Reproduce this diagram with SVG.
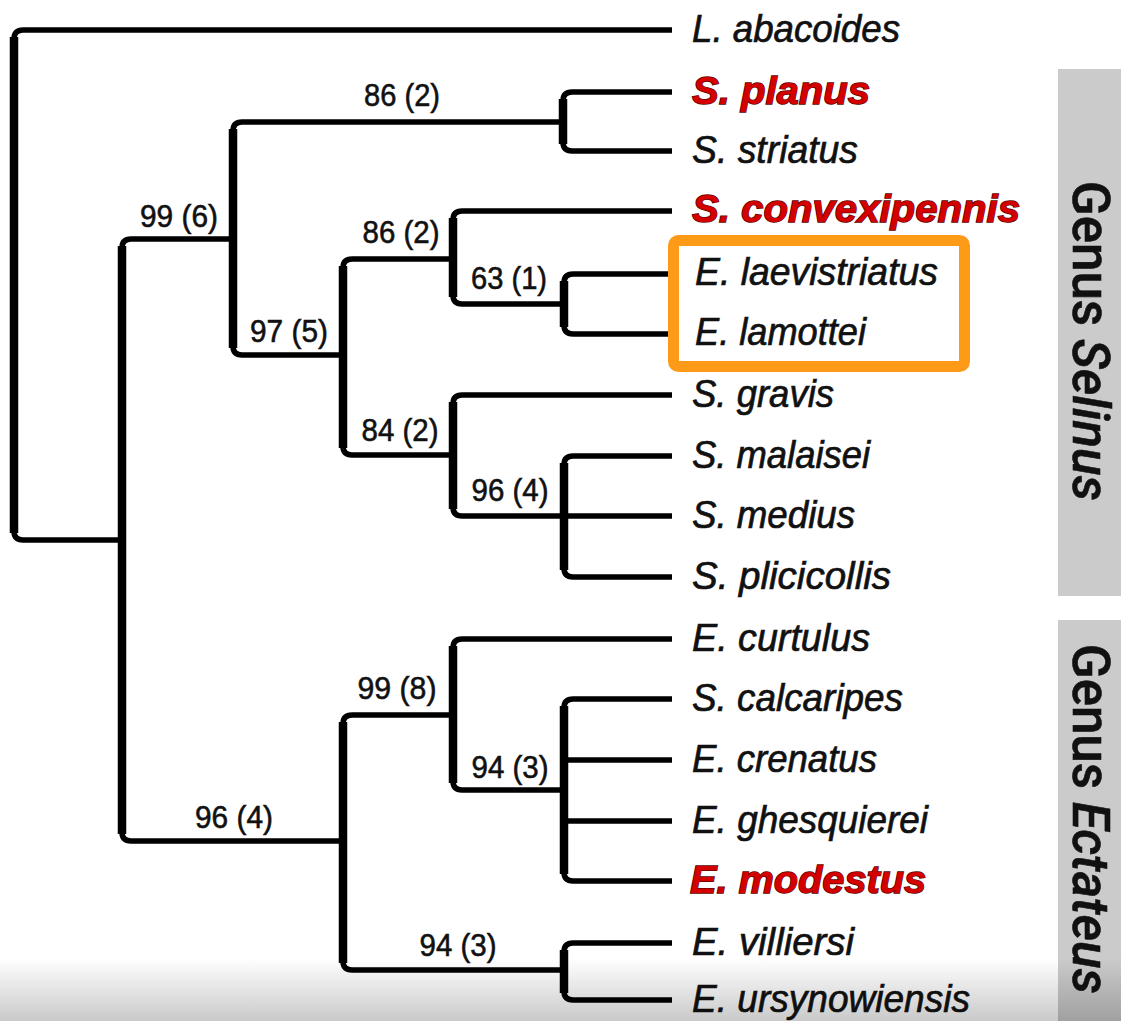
<svg xmlns="http://www.w3.org/2000/svg" width="1121" height="1021" viewBox="0 0 1121 1021">
  <defs>
    <linearGradient id="fade" x1="0" y1="0" x2="0" y2="1">
      <stop offset="0" stop-color="#000" stop-opacity="0"/>
      <stop offset="1" stop-color="#000" stop-opacity="0.21"/>
    </linearGradient>
    <style>
      .h { stroke:#000; stroke-width:5.5; fill:none; stroke-linejoin:round; }
      .v { stroke:#000; stroke-width:8.5; fill:none; }
      .leaf { font-family:"Liberation Sans", Arial, sans-serif; font-style:italic; font-size:39px; fill:#111; stroke:#111; stroke-width:0.7; }
      .red { font-weight:bold; fill:#d40000; stroke:#5a0000; stroke-width:1.4; paint-order:stroke; }
      .bs { font-family:"Liberation Sans", Arial, sans-serif; font-size:32px; fill:#111; stroke:#111; stroke-width:0.6; text-anchor:middle; }
      .genus { font-family:Roboto, "Liberation Sans", sans-serif; font-size:51px; font-weight:500; fill:#111; stroke:#111; stroke-width:0.6; text-anchor:middle; }
      .bar { fill:#cbcbcb; }
    </style>
  </defs>
  <rect width="1121" height="1021" fill="#fff"/>

  <g id="genus-selinus">
    <rect class="bar" x="1058" y="69" width="63" height="527"/>
    <text class="genus" transform="translate(1073,341) rotate(90)">Genus <tspan font-style="italic">Selinus</tspan></text>
  </g>
  <g id="genus-ectateus">
    <rect class="bar" x="1058" y="620" width="63" height="401"/>
    <text class="genus" transform="translate(1073,819) rotate(90)">Genus <tspan font-style="italic">Ectateus</tspan></text>
  </g>

  <g id="connectors">
    <path class="h" d="M672,30 H23 Q14,30 14,39 V531 Q14,540 23,540 H122"/>
    <path class="v" d="M14,37 V533"/>
    <path class="h" d="M233,239 H131 Q122,239 122,248 V832 Q122,841 131,841 H343"/>
    <path class="v" d="M122,246 V834"/>
    <path class="h" d="M563,122 H242 Q233,122 233,131 V346 Q233,355 242,355 H343"/>
    <path class="v" d="M233,129 V348"/>
    <path class="h" d="M672,92 H572 Q563,92 563,101 V142 Q563,151 572,151 H672"/>
    <path class="v" d="M563,99 V144"/>
    <path class="h" d="M453,259 H352 Q343,259 343,268 V446 Q343,455 352,455 H453"/>
    <path class="v" d="M343,266 V448"/>
    <path class="h" d="M672,211 H462 Q453,211 453,220 V295 Q453,304 462,304 H564"/>
    <path class="v" d="M453,218 V297"/>
    <path class="h" d="M672,274 H573 Q564,274 564,283 V325 Q564,334 573,334 H672"/>
    <path class="v" d="M564,281 V327"/>
    <path class="h" d="M672,395 H462 Q453,395 453,404 V507 Q453,516 462,516 H564"/>
    <path class="v" d="M453,402 V509"/>
    <path class="h" d="M672,456 H573 Q564,456 564,465 V568 Q564,577 573,577 H672 M564,516 H672"/>
    <path class="v" d="M564,463 V570"/>
    <path class="h" d="M453,715 H352 Q343,715 343,724 V961 Q343,970 352,970 H564"/>
    <path class="v" d="M343,722 V963"/>
    <path class="h" d="M672,639 H462 Q453,639 453,648 V781 Q453,790 462,790 H564"/>
    <path class="v" d="M453,646 V783"/>
    <path class="h" d="M672,699 H573 Q564,699 564,708 V872 Q564,881 573,881 H672 M564,760 H672 M564,821 H672"/>
    <path class="v" d="M564,706 V874"/>
    <path class="h" d="M672,943 H573 Q564,943 564,952 V991 Q564,1000 573,1000 H672"/>
    <path class="v" d="M564,950 V993"/>
  </g>

  <g id="support-labels">
    <text class="bs" x="402" y="106" textLength="76" lengthAdjust="spacingAndGlyphs">86 (2)</text>
    <text class="bs" x="179" y="227" textLength="78" lengthAdjust="spacingAndGlyphs">99 (6)</text>
    <text class="bs" x="401" y="243" textLength="77" lengthAdjust="spacingAndGlyphs">86 (2)</text>
    <text class="bs" x="289" y="342" textLength="78" lengthAdjust="spacingAndGlyphs">97 (5)</text>
    <text class="bs" x="509" y="289" textLength="76" lengthAdjust="spacingAndGlyphs">63 (1)</text>
    <text class="bs" x="400" y="441" textLength="77" lengthAdjust="spacingAndGlyphs">84 (2)</text>
    <text class="bs" x="510" y="501" textLength="77" lengthAdjust="spacingAndGlyphs">96 (4)</text>
    <text class="bs" x="397" y="699" textLength="79" lengthAdjust="spacingAndGlyphs">99 (8)</text>
    <text class="bs" x="510" y="778" textLength="77" lengthAdjust="spacingAndGlyphs">94 (3)</text>
    <text class="bs" x="234" y="828" textLength="78" lengthAdjust="spacingAndGlyphs">96 (4)</text>
    <text class="bs" x="458" y="956" textLength="77" lengthAdjust="spacingAndGlyphs">94 (3)</text>
  </g>

  <g id="highlight-box">
    <rect x="673.5" y="240.5" width="291" height="126" rx="5" fill="none" stroke="#fd9a17" stroke-width="11"/>
  </g>

  <g id="leaves">
    <g id="leaf-l-abacoides"><text class="leaf" x="692" y="42" textLength="208" lengthAdjust="spacingAndGlyphs">L. abacoides</text></g>
    <g id="leaf-s-planus"><text class="leaf red" x="692" y="104" textLength="178" lengthAdjust="spacingAndGlyphs">S. planus</text></g>
    <g id="leaf-s-striatus"><text class="leaf" x="692" y="163" textLength="166" lengthAdjust="spacingAndGlyphs">S. striatus</text></g>
    <g id="leaf-s-convexipennis"><text class="leaf red" x="692" y="222" textLength="328" lengthAdjust="spacingAndGlyphs">S. convexipennis</text></g>
    <g id="leaf-e-laevistriatus"><text class="leaf" x="695" y="285" textLength="243" lengthAdjust="spacingAndGlyphs">E. laevistriatus</text></g>
    <g id="leaf-e-lamottei"><text class="leaf" x="695" y="345" textLength="171" lengthAdjust="spacingAndGlyphs">E. lamottei</text></g>
    <g id="leaf-s-gravis"><text class="leaf" x="692" y="407" textLength="142" lengthAdjust="spacingAndGlyphs">S. gravis</text></g>
    <g id="leaf-s-malaisei"><text class="leaf" x="692" y="468" textLength="178" lengthAdjust="spacingAndGlyphs">S. malaisei</text></g>
    <g id="leaf-s-medius"><text class="leaf" x="692" y="528" textLength="163" lengthAdjust="spacingAndGlyphs">S. medius</text></g>
    <g id="leaf-s-plicicollis"><text class="leaf" x="692" y="589" textLength="199" lengthAdjust="spacingAndGlyphs">S. plicicollis</text></g>
    <g id="leaf-e-curtulus"><text class="leaf" x="692" y="651" textLength="178" lengthAdjust="spacingAndGlyphs">E. curtulus</text></g>
    <g id="leaf-s-calcaripes"><text class="leaf" x="692" y="711" textLength="211" lengthAdjust="spacingAndGlyphs">S. calcaripes</text></g>
    <g id="leaf-e-crenatus"><text class="leaf" x="692" y="772" textLength="185" lengthAdjust="spacingAndGlyphs">E. crenatus</text></g>
    <g id="leaf-e-ghesquierei"><text class="leaf" x="692" y="833" textLength="236" lengthAdjust="spacingAndGlyphs">E. ghesquierei</text></g>
    <g id="leaf-e-modestus"><text class="leaf red" x="690" y="893" textLength="236" lengthAdjust="spacingAndGlyphs">E. modestus</text></g>
    <g id="leaf-e-villiersi"><text class="leaf" x="692" y="955" textLength="162" lengthAdjust="spacingAndGlyphs">E. villiersi</text></g>
    <g id="leaf-e-ursynowiensis"><text class="leaf" x="692" y="1012" textLength="278" lengthAdjust="spacingAndGlyphs">E. ursynowiensis</text></g>
  </g>

  <rect x="0" y="958" width="1121" height="63" fill="url(#fade)"/>
</svg>
